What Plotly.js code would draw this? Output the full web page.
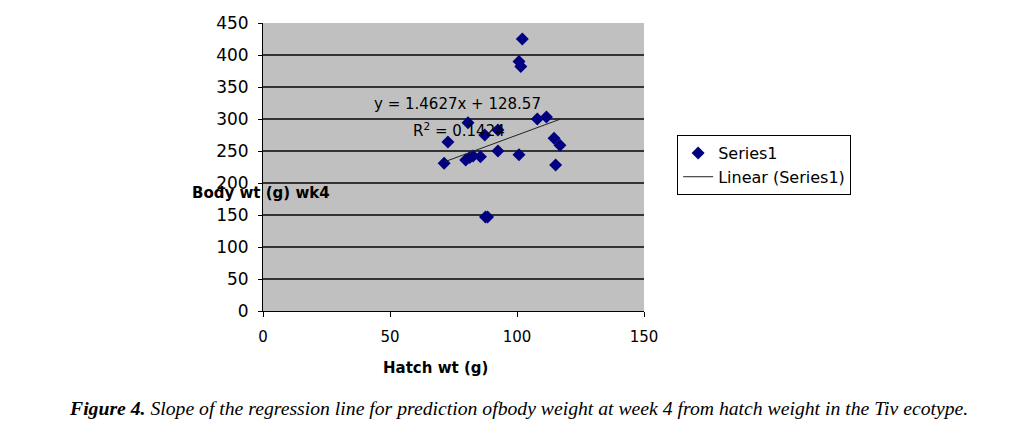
<!DOCTYPE html>
<html>
<head>
<meta charset="utf-8">
<script src="https://cdn.plot.ly/plotly-3.0.1.min.js"></script>
<style>html,body{margin:0;padding:0;background:#fff;}#chart{width:1028px;height:429px;}</style>
</head>
<body>
<div id="chart"></div>
<script>
// Data
const hatchWt = [71.3, 72.8, 80.7, 79.8, 81.4, 82.7, 85.6, 87.3, 92.5, 92.5, 100.8, 108.0, 111.6, 114.6, 116.9, 115.2, 102.1, 100.8, 101.5, 87.6, 88.4];
const bodyWt4 = [231, 264, 294, 236, 240, 242, 241, 275, 283, 250, 244, 300, 303, 270, 259, 228, 425, 390, 382, 147, 147];
const slope = 1.4627;
const intercept = 128.57;
const eqText = "y = 1.4627x + 128.57";
const r2Text = "R<sup>2</sup> = 0.1424";
const xTicks = [0, 50, 100, 150];
const yTicks = [0, 50, 100, 150, 200, 250, 300, 350, 400, 450];

const xMin = Math.min(...hatchWt), xMax = Math.max(...hatchWt);
const trendX = [xMin, xMax];
const trendY = trendX.map(v => slope * v + intercept);

const traces = [
  {
    x: hatchWt, y: bodyWt4, type: 'scatter', mode: 'markers', name: 'Series1',
    marker: {symbol: 'diamond', size: 10, color: '#000080'}
  },
  {
    x: trendX, y: trendY, type: 'scatter', mode: 'lines', name: 'Linear (Series1)',
    line: {color: '#222222', width: 1}
  }
];

const layout = {
  width: 1028, height: 429,
  margin: {l: 263, r: 384, t: 23, b: 118},
  paper_bgcolor: '#ffffff',
  plot_bgcolor: '#c0c0c0',
  font: {family: 'DejaVu Sans', size: 15, color: '#000'},
  showlegend: true,
  legend: {
    x: 1.087, xanchor: 'left', y: 0.611, yanchor: 'top',
    bgcolor: '#ffffff', bordercolor: '#000', borderwidth: 1,
    font: {family: 'DejaVu Sans', size: 16, color: '#000'},
    tracegroupgap: 0
  },
  xaxis: {
    range: [0, 150], tickvals: xTicks, ticktext: xTicks.map(String),
    showgrid: false, zeroline: false, showline: true, linecolor: '#000', linewidth: 1,
    ticks: 'outside', ticklen: 5, tickcolor: '#000',
    tickfont: {family: 'DejaVu Sans', size: 15, color: '#000'},
    ticklabelstandoff: 7, fixedrange: true
  },
  yaxis: {
    range: [0, 450], tickvals: yTicks, ticktext: yTicks.map(String),
    showgrid: true, gridcolor: '#333333', gridwidth: 1.5,
    zeroline: false, showline: true, linecolor: '#000', linewidth: 1,
    ticks: 'outside', ticklen: 4, tickcolor: '#000',
    tickfont: {family: 'DejaVu Sans', size: 17, color: '#000'},
    ticklabelstandoff: 6, fixedrange: true
  },
  annotations: [
    {x: 76.7, y: 323, xref: 'x', yref: 'y', text: eqText, showarrow: false,
     font: {family: 'DejaVu Sans', size: 15, color: '#000'}},
    {x: 77, y: 283, xref: 'x', yref: 'y', text: r2Text, showarrow: false,
     font: {family: 'DejaVu Sans', size: 15, color: '#000'}},
    {x: 0, y: (311 - 193) / 288, xref: 'paper', yref: 'paper', xanchor: 'center', yanchor: 'middle',
     xshift: -2, text: '<b>Body wt (g) wk4</b>', showarrow: false,
     font: {family: 'DejaVu Sans', size: 15, color: '#000'}},
    {x: (435 - 263) / 381, y: 0, xref: 'paper', yref: 'paper', xanchor: 'center', yanchor: 'middle', yshift: -57,
     text: '<b>Hatch wt (g)</b>', showarrow: false,
     font: {family: 'DejaVu Sans', size: 15, color: '#000'}},
    {x: (518 - 263) / 381, y: 0, xref: 'paper', yref: 'paper', xanchor: 'center', yanchor: 'middle', yshift: -97,
     text: '<b><i>Figure 4.</i></b><i> Slope of the regression line for prediction ofbody weight at week 4 from hatch weight in the Tiv ecotype.</i>',
     showarrow: false,
     font: {family: 'Liberation Serif', size: 19.7, color: '#000'}}
  ]
};

Plotly.newPlot('chart', traces, layout, {displayModeBar: false, staticPlot: true});
</script>
</body>
</html>
